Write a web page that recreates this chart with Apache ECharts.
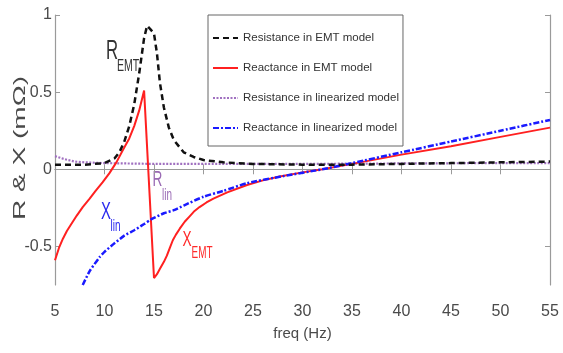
<!DOCTYPE html>
<html><head><meta charset="utf-8">
<script src="https://cdn.jsdelivr.net/npm/echarts@6/dist/echarts.min.js"></script>
<style>html,body{margin:0;padding:0;background:#fff;overflow:hidden}#c{width:563px;height:353px}</style>
</head><body><div id="c"></div>
<script>
// Resistance in EMT model
const freqREMT = [5,6,7,8,9,10,11,11.5,12,12.5,13,13.5,14,14.3,14.6,15,15.3,15.6,16,16.5,17,18,19,20,22,25,30,35,40,45,50,55];
const valREMT  = [0.03,0.03,0.03,0.03,0.035,0.04,0.07,0.11,0.18,0.28,0.42,0.62,0.85,0.93,0.91,0.88,0.75,0.56,0.40,0.27,0.19,0.11,0.08,0.06,0.045,0.035,0.03,0.03,0.035,0.04,0.045,0.05];
// Reactance in EMT model
const freqXEMT = [5,5.4,5.8,6.2,6.6,7.2,7.8,8.5,9.1,9.8,10.5,11.2,11.9,12.5,13,13.5,14,15,15.3,15.6,16,16.3,16.6,16.9,17.2,17.6,18.1,18.6,19.1,19.6,20.3,21,22.4,24.4,26,27.7,30,32,35,40,45,50,55];
const valXEMT  = [-0.59,-0.51,-0.45,-0.40,-0.36,-0.30,-0.245,-0.19,-0.14,-0.085,-0.025,0.045,0.13,0.20,0.28,0.38,0.51,-0.705,-0.68,-0.645,-0.60,-0.56,-0.51,-0.46,-0.425,-0.385,-0.34,-0.305,-0.27,-0.245,-0.215,-0.19,-0.15,-0.102,-0.072,-0.047,-0.02,0.0,0.035,0.095,0.15,0.21,0.27];
// Resistance in linearized model
const freqRLin = [5,6,7,8,10,15,20,30,40,50,55];
const valRLin  = [0.085,0.065,0.05,0.045,0.04,0.035,0.035,0.035,0.038,0.04,0.04];
// Reactance in linearized model
const freqXLin = [7.8,8.5,9.5,10,11,12,13,14,14.7,16,17,18,20,22,24.4,28,32,35,40,45,50,55];
const valXLin  = [-0.75,-0.66,-0.57,-0.535,-0.48,-0.43,-0.395,-0.355,-0.325,-0.285,-0.265,-0.235,-0.178,-0.14,-0.09,-0.045,0.0,0.04,0.11,0.18,0.25,0.32];

const seriesNames = ['Resistance in EMT model','Reactance in EMT model','Resistance in linearized model','Reactance in linearized model'];
const xTicks = [5,10,15,20,25,30,35,40,45,50,55];
const yTicks = [-0.5,0,0.5,1];

const zip = (a,b) => a.map((f,i) => [f,b[i]]);
const FONT = "'Liberation Sans',Arial,sans-serif";
const axisGray = '#9a9a9a';
const labelGray = '#4a4a4a';

const chart = echarts.init(document.getElementById('c'));
const baseX = {
  type:'value', min:5, max:55, interval:5,
  axisLine:{show:true,lineStyle:{color:axisGray,width:1.2}},
  axisTick:{show:true,inside:true,length:5,lineStyle:{color:axisGray}},
  splitLine:{show:false}
};
const baseY = {
  type:'value', min:-0.75, max:1,
  axisLine:{show:true,lineStyle:{color:axisGray,width:1.2}},
  axisTick:{show:true,inside:true,length:5,customValues:yTicks,lineStyle:{color:axisGray}},
  splitLine:{show:false}
};
// annotation helper: main letter + subscript, horizontally condensed like the source
function ann(main, sub, cx, cy, sx, sy, size, subSize, color){
  return [
    {type:'text',x:cx,y:cy,scaleX:0.62,silent:true,
      style:{text:main,font:size+"px "+FONT,fill:color,align:'center',verticalAlign:'middle'}},
    {type:'text',x:sx,y:sy,scaleX:0.62,silent:true,
      style:{text:sub,font:subSize+"px "+FONT,fill:color,align:'center',verticalAlign:'middle'}}
  ];
}
chart.setOption({
  animation:false,
  backgroundColor:'#fff',
  grid:{left:55,right:13,top:15,bottom:68,containLabel:false},
  xAxis:[
    Object.assign({}, baseX, {position:'bottom',
      axisLabel:{show:true,fontFamily:FONT,fontSize:16,color:labelGray,margin:19,customValues:xTicks},
      name:'freq (Hz)',nameLocation:'middle',nameGap:41,
      nameTextStyle:{fontFamily:FONT,fontSize:15,color:labelGray}}),
    Object.assign({}, baseX, {position:'top',axisLabel:{show:false}})
  ],
  yAxis:[
    Object.assign({}, baseY, {position:'left',
      axisLabel:{show:true,fontFamily:FONT,fontSize:16,color:labelGray,margin:3,customValues:yTicks,
        formatter:v=>String(v)}}),
    Object.assign({}, baseY, {position:'right',axisLabel:{show:false}})
  ],
  legend:{
    orient:'vertical', left:208, top:15,
    padding:[17,4,12,4], itemGap:18, itemWidth:25, itemHeight:14,
    backgroundColor:'#fff', borderColor:'#666', borderWidth:1, borderRadius:0,
    itemStyle:{color:'rgba(0,0,0,0)',borderWidth:0,opacity:0},
    textStyle:{fontFamily:FONT,fontSize:11.5,color:'#333'},
    data:seriesNames
  },
  series:[
    {name:seriesNames[2],type:'line',symbol:'none',z:2,data:zip(freqRLin,valRLin),
      lineStyle:{color:'#a070c0',width:2.2,type:[2,1.5]},itemStyle:{color:'#a070c0'}},
    {name:seriesNames[1],type:'line',symbol:'none',z:3,data:zip(freqXEMT,valXEMT),
      lineStyle:{color:'#ff2020',width:2},itemStyle:{color:'#ff2020'}},
    {name:seriesNames[3],type:'line',symbol:'none',z:4,data:zip(freqXLin,valXLin),smooth:0.2,
      lineStyle:{color:'#1a1aff',width:2.5,type:[6,2,2,2]},itemStyle:{color:'#1a1aff'}},
    {name:seriesNames[0],type:'line',symbol:'none',z:5,data:zip(freqREMT,valREMT),
      lineStyle:{color:'#111',width:2.5,type:[6,4]},itemStyle:{color:'#111'}}
  ],
  graphic:[
    {type:'text',x:20,y:148,rotation:Math.PI/2,scaleX:1.65,silent:true,
      style:{text:'R & X (mΩ)',font:"17px "+FONT,fill:labelGray,align:'center',verticalAlign:'middle'}}
  ].concat(
    ann('R','EMT',112,52,128,66,27,17,'#333'),
    ann('R','lin',157.5,180,167,196,22,16,'#9a6ab4'),
    ann('X','lin',106,212,115.5,227,24,16,'#2a2aee'),
    ann('X','EMT',187,240,202,254,22,16,'#ff2a2a')
  )
});
</script></body></html>
